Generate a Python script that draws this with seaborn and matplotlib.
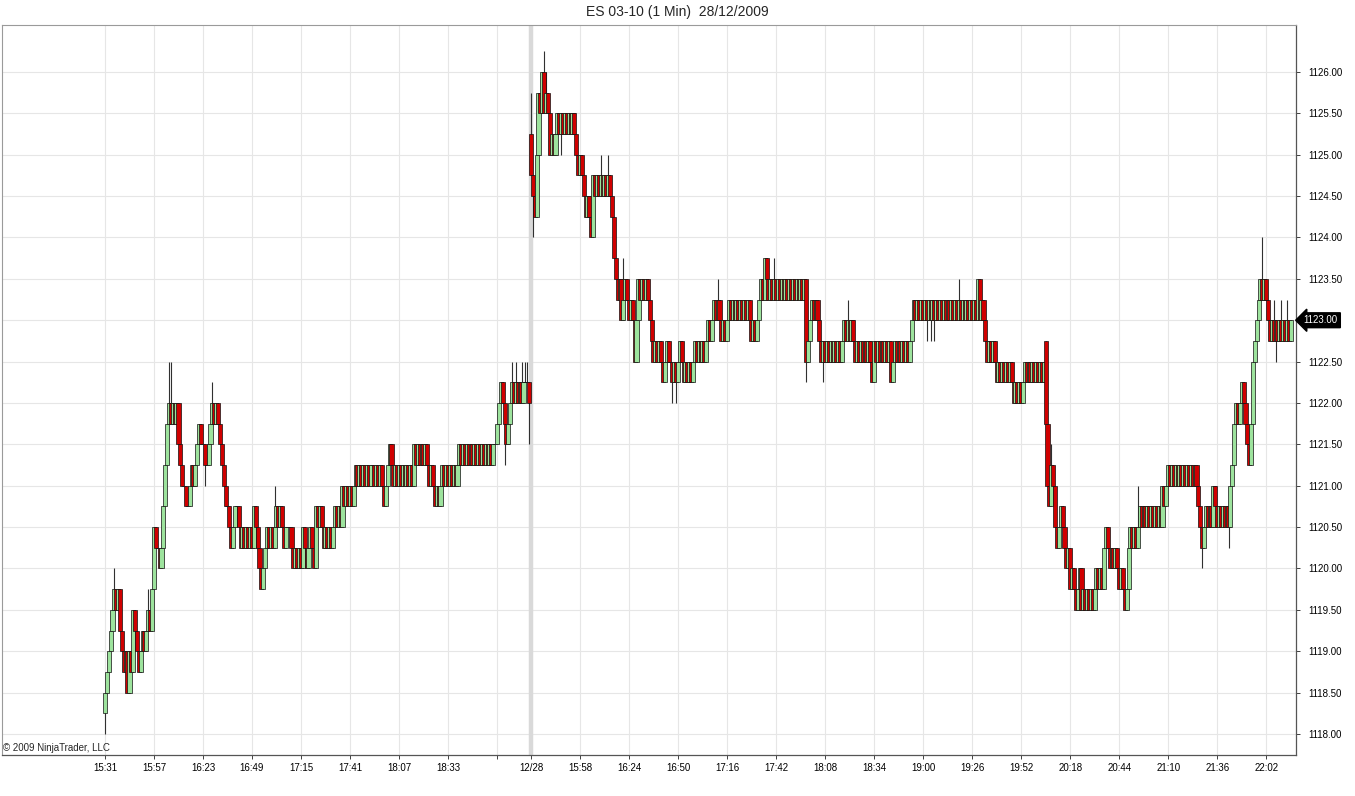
import numpy as np
import pandas as pd
import matplotlib
matplotlib.use("Agg")
import matplotlib.pyplot as plt
import seaborn as sns
from matplotlib.transforms import blended_transform_factory

# ---------------- data (prices in quarter ticks above 1118.00) ----------------
BASE_PRICE = 1118.0
TICK_SIZE = 0.25

closes_session1 = [
    2, 3, 4, 5, 6, 7, 6, 7, 5, 4,
    3, 4, 2, 4, 3, 6, 5, 4, 3, 4,
    5, 4, 5, 6, 5, 7, 10, 9, 9, 8,
    9, 11, 13, 15, 16, 15, 16, 15, 16, 14,
    13, 12, 12, 11, 11, 12, 13, 12, 13, 14,
    15, 14, 14, 13, 13, 14, 15, 16, 15, 16,
    15, 14, 13, 12, 11, 11, 10, 9, 10, 11,
    11, 10, 9, 10, 9, 10, 9, 10, 9, 11,
    10, 9, 8, 7, 8, 9, 10, 9, 10, 9,
    10, 11, 10, 11, 10, 9, 10, 10, 10, 9,
    8, 9, 8, 9, 8, 10, 9, 8, 9, 10,
    9, 8, 11, 10, 11, 10, 9, 10, 9, 10,
    9, 10, 11, 10, 11, 10, 12, 11, 12, 11,
    12, 11, 12, 13, 12, 13, 12, 13, 12, 13,
    12, 13, 13, 12, 13, 12, 13, 12, 11, 12,
    13, 14, 13, 12, 13, 12, 13, 12, 13, 12,
    13, 12, 13, 12, 14, 13, 14, 13, 14, 13,
    14, 13, 12, 13, 12, 11, 12, 11, 12, 13,
    12, 13, 12, 13, 12, 13, 12, 13, 14, 13,
    14, 13, 14, 13, 14, 13, 14, 13, 14, 13,
    14, 13, 14, 13, 14, 13, 14, 14, 15, 16,
    17, 16, 15, 14, 15, 16, 17, 16, 17, 16,
    17, 16, 17, 17, 17, 16,
]

closes_session2 = [
    27, 26, 25, 28,
    31, 30, 32, 30, 31, 30, 28, 29, 28, 29,
    30, 29, 30, 29, 30, 29, 30, 29, 30, 29,
    28, 27, 28, 27, 26, 25, 26, 25, 24, 27,
    26, 27, 26, 27, 26, 27, 26, 27, 26, 25,
    23, 22, 21, 22, 20, 21, 22, 21, 20, 21,
    20, 18, 20, 22, 21, 22, 21, 22, 21, 20,
    19, 18, 19, 18, 19, 18, 17, 18, 19, 18,
    18, 17, 18, 17, 18, 19, 18, 17, 18, 17,
    18, 17, 18, 19, 18, 19, 18, 19, 18, 19,
    20, 19, 20, 21, 20, 21, 20, 19, 20, 19,
    20, 21, 20, 21, 20, 21, 20, 21, 20, 21,
    20, 21, 20, 19, 20, 19, 20, 21, 22, 21,
    23, 22, 21, 22, 21, 22, 21, 22, 21, 22,
    21, 22, 21, 22, 21, 22, 21, 22, 21, 22,
    21, 22, 18, 19, 20, 21, 20, 21, 20, 19,
    18, 19, 18, 19, 18, 19, 18, 19, 18, 19,
    18, 19, 20, 19, 20, 19, 20, 19, 18, 19,
    18, 19, 18, 19, 18, 19, 18, 17, 19, 18,
    19, 18, 19, 18, 19, 18, 19, 17, 18, 19,
    18, 19, 18, 19, 18, 19, 18, 19, 20, 21,
    20, 21, 20, 21, 20, 21, 20, 21, 20, 21,
    20, 21, 20, 21, 20, 21, 20, 21, 20, 21,
    20, 21, 20, 21, 20, 21, 20, 21, 20, 21,
    20, 21, 20, 22, 20, 21, 20, 19, 18, 19,
    18, 19, 18, 17, 18, 17, 18, 17, 18, 17,
    18, 17, 16, 17, 16, 17, 16, 17, 18, 17,
    18, 17, 18, 17, 18, 17, 18, 17, 18, 15,
    12, 11, 13, 12, 10, 9, 10, 11, 10, 9,
    8, 9, 7, 8, 7, 6, 7, 8, 6, 7,
    6, 7, 6, 7, 6, 7, 8, 7, 8, 7,
    9, 10, 9, 8, 9, 8, 9, 8, 7, 8,
    7, 6, 7, 9, 10, 9, 10, 9, 10, 11,
    10, 11, 10, 11, 10, 11, 10, 11, 10, 11,
    10, 12, 11, 12, 13, 12, 13, 12, 13, 12,
    13, 12, 13, 12, 13, 12, 13, 12, 13, 12,
    11, 10, 9, 10, 11, 10, 11, 10, 12, 11,
    10, 11, 10, 11, 10, 11, 10, 12, 13, 15,
    16, 15, 16, 17, 16, 15, 14, 13, 15, 18,
    19, 20, 21, 22, 21, 22, 21, 20, 19, 20,
    19, 20, 19, 20, 19, 20, 19, 20, 19, 20,
]

first_open = 1
open_gaps = {226: 29, 499: 19}
wick_highs = {5: 8, 23: 7, 34: 18, 35: 18, 57: 17, 90: 12, 216: 18, 218: 18,
              221: 18, 223: 18, 224: 18, 226: 31, 233: 33, 234: 32, 263: 28,
              267: 28, 275: 23, 325: 22, 355: 23, 394: 21, 453: 22, 502: 14,
              548: 12, 589: 12, 614: 24, 620: 21, 624: 21, 627: 21}
wick_lows = {0: 0, 53: 12, 83: 7, 212: 13, 225: 14, 227: 24, 240: 28, 242: 28,
             301: 16, 303: 16, 372: 17, 381: 17, 436: 19, 438: 19, 440: 19,
             582: 8, 596: 9, 621: 18}

tick_positions = [0, 26, 52, 78, 104, 130, 156, 182, 208, 226, 252, 278, 304,
                  330, 356, 382, 408, 434, 460, 486, 512, 538, 564, 590, 616]
tick_labels = ["15:31", "15:57", "16:23", "16:49", "17:15", "17:41", "18:07",
               "18:33", "", "12/28", "15:58", "16:24", "16:50", "17:16",
               "17:42", "18:08", "18:34", "19:00", "19:26", "19:52", "20:18",
               "20:44", "21:10", "21:36", "22:02"]
price_ticks = [1118.0, 1118.5, 1119.0, 1119.5, 1120.0, 1120.5, 1121.0, 1121.5,
               1122.0, 1122.5, 1123.0, 1123.5, 1124.0, 1124.5, 1125.0, 1125.5,
               1126.0]
session_break = 226
last_price = 1123.00
title = "ES 03-10 (1 Min)  28/12/2009"

# ---------------- build OHLC table ----------------
closes_q = closes_session1 + closes_session2
rows = []
prev = first_open
for i, c in enumerate(closes_q):
    o = open_gaps.get(i, prev)
    h = max(o, c, wick_highs.get(i, -99))
    l = min(o, c, wick_lows.get(i, 99))
    rows.append((i, o, h, l, c))
    prev = c
df = pd.DataFrame(rows, columns=["bar", "open", "high", "low", "close"])
for col in ["open", "high", "low", "close"]:
    df[col] = BASE_PRICE + df[col] * TICK_SIZE

# ---------------- figure ----------------
sns.set_theme(style="white")
plt.rcParams["font.family"] = ["Liberation Sans", "DejaVu Sans"]

fig = plt.figure(figsize=(13.55, 7.96), dpi=100)
ax = fig.add_axes([2 / 1355, 41 / 796, 1294 / 1355, 730 / 796])

UP = "#9de39d"
DOWN = "#d00000"

ax.axvline(session_break, color="#d9d9d9", lw=3.2, zorder=1)

ax.vlines(df["bar"], df["low"], df["high"], color="#303030", lw=0.8, zorder=2)

bottoms = np.minimum(df["open"], df["close"])
heights = np.abs(df["close"] - df["open"])
colors = [UP if c > o else (DOWN if c < o else "black")
          for o, c in zip(df["open"], df["close"])]
ax.bar(df["bar"], heights, bottom=bottoms, width=2.2, color=colors,
       edgecolor="#101010", linewidth=0.5, zorder=3)

ax.set_xlim(-54.6, 631.8)
ax.set_ylim(1117.746, 1126.568)

ax.set_xticks(tick_positions)
ax.set_xticklabels(tick_labels, fontsize=7)
ax.set_yticks(price_ticks)
ylabels = [("" if abs(p - last_price) < 1e-9 else f"{p:.2f}") for p in price_ticks]
ax.set_yticklabels(ylabels, fontsize=7)
ax.yaxis.tick_right()
ax.tick_params(axis="both", which="both", direction="out", length=3, width=0.7,
               color="#404040", labelcolor="black")
ax.tick_params(axis="y", pad=6, left=False, right=True)
ax.tick_params(axis="x", pad=3, bottom=True, top=False)
ax.grid(True, color="#e6e6e6", lw=0.8, zorder=0)
ax.set_axisbelow(True)

for side in ["left", "top"]:
    ax.spines[side].set_color("#9a9a9a")
    ax.spines[side].set_linewidth(0.8)
for side in ["right", "bottom"]:
    ax.spines[side].set_color("#555555")
    ax.spines[side].set_linewidth(0.9)

trans = blended_transform_factory(ax.transAxes, ax.transData)
ax.text(1.006, last_price, f"{last_price:.2f}", transform=trans, ha="left",
        va="center", fontsize=7, color="white", zorder=10, clip_on=False,
        bbox=dict(boxstyle="larrow,pad=0.25", fc="black", ec="black"))

fig.text(677 / 1355, 1 - 12 / 796, title, ha="center", va="center", fontsize=10)
fig.text(3 / 1355, 1 - 748 / 796, "© 2009 NinjaTrader, LLC", ha="left",
         va="center", fontsize=7)

fig.savefig("out.png", dpi=100)
